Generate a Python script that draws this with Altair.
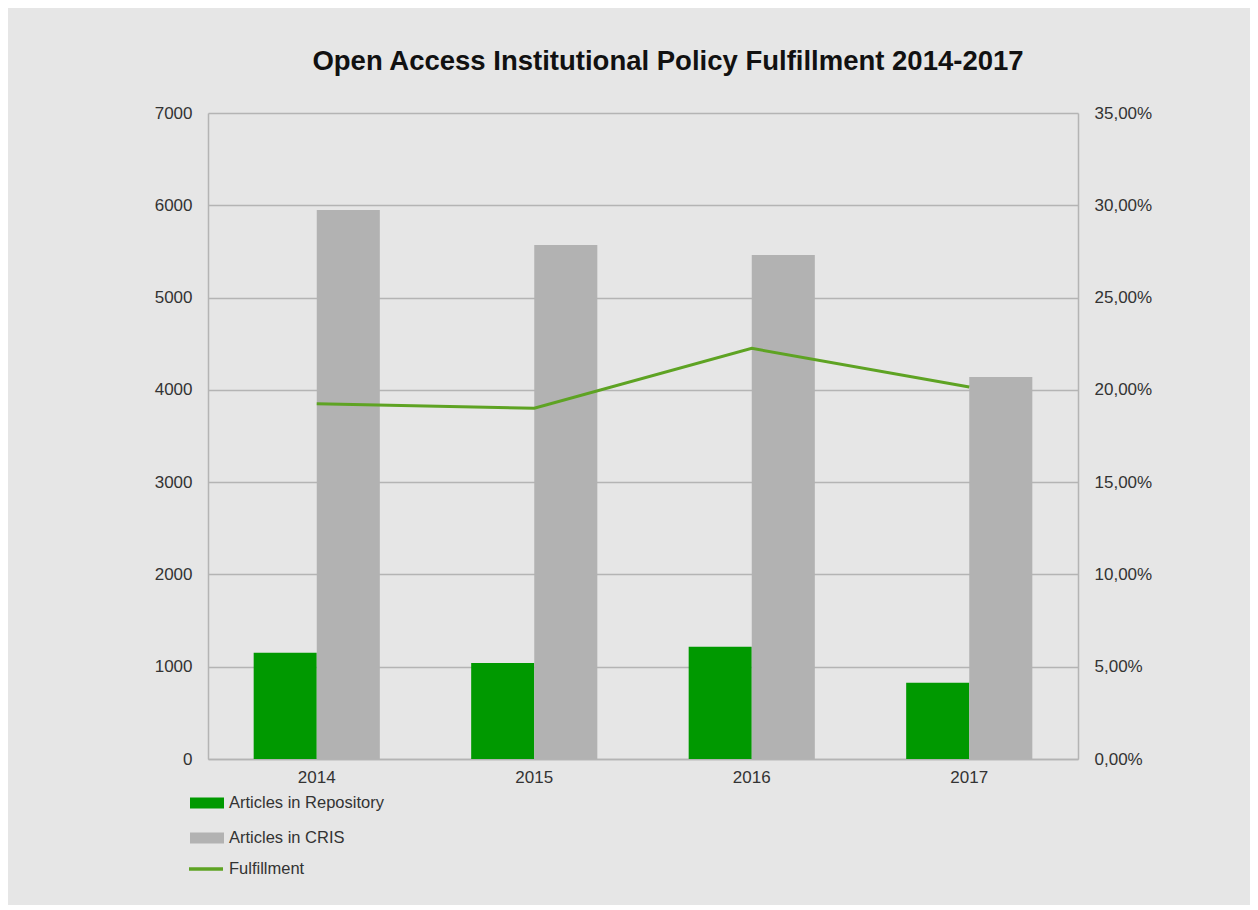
import altair as alt
import pandas as pd

years = ["2014", "2015", "2016", "2017"]
repo = [1150, 1040, 1215, 825]
cris = [5950, 5570, 5460, 4140]
fulfill = [0.1925, 0.1900, 0.2225, 0.2015]
bar_series = ["Articles in Repository", "Articles in CRIS"]
bar_colors = ["#009900", "#b2b2b2"]
line_series = ["Fulfillment"]
line_colors = ["#5ea323"]
left_ticks = [0, 1000, 2000, 3000, 4000, 5000, 6000, 7000]
right_ticks = [0, 0.05, 0.10, 0.15, 0.20, 0.25, 0.30, 0.35]

bar_rows = []
for i, y in enumerate(years):
    bar_rows.append({"year": y, "series": bar_series[0], "value": repo[i]})
    bar_rows.append({"year": y, "series": bar_series[1], "value": cris[i]})
bars_df = pd.DataFrame(bar_rows)
line_df = pd.DataFrame({"year": years, "fulfill": fulfill, "series": line_series * 4})

FONT = "Liberation Sans"
GRID = "#b4b4b4"
LABEL = "#333333"
AX = 17

x_scale = alt.Scale(domain=years, paddingInner=0.42, paddingOuter=0.21)
x_axis = alt.Axis(title=None, labelAngle=0, ticks=False, domain=True, domainColor=GRID,
                  domainWidth=1.5, labelFontSize=AX, labelColor=LABEL, labelFont=FONT,
                  labelPadding=10, grid=False)

bars = alt.Chart(bars_df).mark_bar().encode(
    x=alt.X("year:N", scale=x_scale, axis=x_axis),
    xOffset=alt.XOffset("series:N", scale=alt.Scale(domain=bar_series, paddingInner=0, paddingOuter=0)),
    y=alt.Y("value:Q", scale=alt.Scale(domain=[0, 7000], nice=False),
            axis=alt.Axis(title=None, values=left_ticks, format="d", ticks=False, grid=True,
                          gridColor=GRID, gridWidth=1.5, domain=True, domainColor=GRID,
                          domainWidth=1.5, labelFontSize=AX, labelColor=LABEL, labelFont=FONT,
                          labelPadding=16)),
    color=alt.Color("series:N", scale=alt.Scale(domain=bar_series, range=bar_colors),
                    legend=alt.Legend(title=None, orient="none", legendX=-18, legendY=673,
                                      direction="vertical", symbolSize=1156,
                                      symbolType="M-1,-0.32H1V0.32H-1Z",
                                      labelFont=FONT, labelFontSize=16.5, labelColor=LABEL,
                                      labelOffset=5, symbolStrokeWidth=0)),
)

line = alt.Chart(line_df).mark_line(strokeWidth=3).encode(
    x=alt.X("year:N", scale=x_scale, axis=x_axis),
    y=alt.Y("fulfill:Q", scale=alt.Scale(domain=[0, 0.35], nice=False),
            axis=alt.Axis(title=None, orient="right", values=right_ticks, ticks=False, grid=False,
                          domain=True, domainColor=GRID, domainWidth=1.5, labelFontSize=AX,
                          labelColor=LABEL, labelFont=FONT, labelPadding=16,
                          labelExpr="replace(format(datum.value*100, '.2f'), '.', ',') + '%'")),
    stroke=alt.Stroke("series:N", scale=alt.Scale(domain=line_series, range=line_colors),
                      legend=alt.Legend(title=None, orient="none", legendX=-21, legendY=737,
                                        direction="vertical", symbolSize=1156,
                                        symbolType="M-1,0H1", symbolStrokeWidth=3.5,
                                        labelFont=FONT, labelFontSize=16.5, labelColor=LABEL,
                                        labelOffset=4)),
)

chart = alt.layer(bars, line).resolve_scale(y="independent").properties(
    width=870,
    height=646,
    background="#e6e6e6",
    padding={"left": 200, "top": 105, "right": 172, "bottom": 146},
    autosize=alt.AutoSizeParams(type="none"),
    title=alt.TitleParams("Open Access Institutional Policy Fulfillment 2014-2017",
                          fontSize=27.5, fontWeight="bold", font=FONT, color="#111111",
                          anchor="middle", offset=29, dx=25),
).configure_view(stroke=None).configure_legend(rowPadding=9)

chart.save("out.html", embed_options={"renderer": "svg", "actions": False})
